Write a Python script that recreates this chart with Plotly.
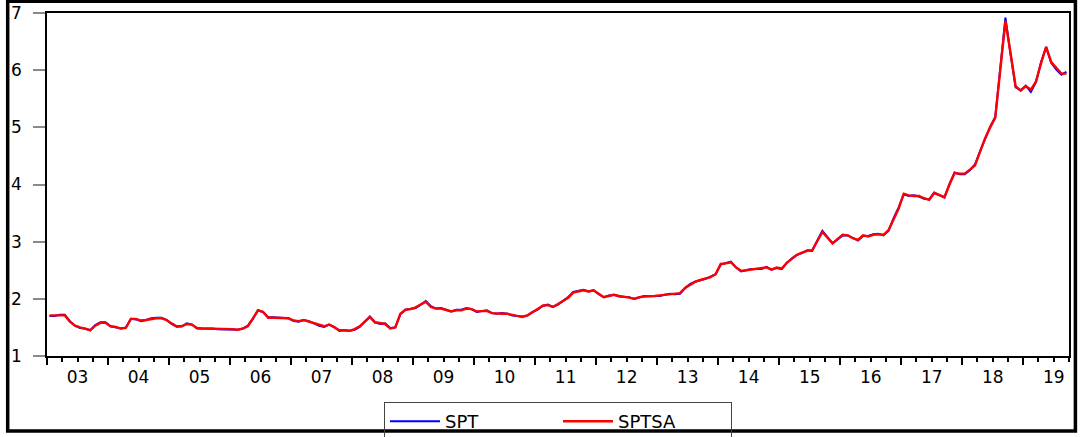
import plotly.graph_objects as go

# Monthly series, 2003M01 .. 2019M09
start_year = 2003
n_years_full = 16
year_labels = ["03", "04", "05", "06", "07", "08", "09", "10", "11",
               "12", "13", "14", "15", "16", "17", "18", "19"]

SPT = [
    1.70, 1.70, 1.72, 1.72, 1.61, 1.53, 1.49, 1.48, 1.45, 1.54, 1.59, 1.59,
    1.52, 1.50, 1.48, 1.50, 1.65, 1.64, 1.61, 1.63, 1.66, 1.67, 1.67, 1.63,
    1.56, 1.51, 1.52, 1.57, 1.55, 1.48, 1.48, 1.49, 1.48, 1.47, 1.47, 1.47,
    1.46, 1.46, 1.48, 1.53, 1.65, 1.80, 1.77, 1.68, 1.68, 1.67, 1.66, 1.66,
    1.61, 1.60, 1.63, 1.61, 1.57, 1.53, 1.51, 1.55, 1.51, 1.44, 1.45, 1.44,
    1.46, 1.51, 1.60, 1.69, 1.59, 1.56, 1.57, 1.49, 1.50, 1.73, 1.81, 1.82,
    1.84, 1.90, 1.96, 1.87, 1.83, 1.84, 1.81, 1.78, 1.81, 1.81, 1.84, 1.82,
    1.77, 1.78, 1.80, 1.75, 1.74, 1.75, 1.74, 1.71, 1.70, 1.69, 1.71, 1.77,
    1.81, 1.88, 1.90, 1.86, 1.90, 1.96, 2.03, 2.12, 2.14, 2.16, 2.13, 2.15,
    2.08, 2.03, 2.06, 2.07, 2.04, 2.04, 2.03, 2.00, 2.02, 2.05, 2.05, 2.05,
    2.05, 2.07, 2.09, 2.08, 2.09, 2.19, 2.26, 2.30, 2.32, 2.35, 2.39, 2.43,
    2.60, 2.62, 2.65, 2.55, 2.48, 2.50, 2.52, 2.52, 2.52, 2.56, 2.51, 2.54,
    2.52, 2.63, 2.71, 2.77, 2.80, 2.85, 2.84, 3.02, 3.19, 3.08, 2.97, 3.04,
    3.11, 3.11, 3.07, 3.02, 3.10, 3.10, 3.13, 3.14, 3.11, 3.19, 3.41, 3.60,
    3.83, 3.80, 3.81, 3.79, 3.75, 3.74, 3.86, 3.81, 3.77, 4.01, 4.21, 4.18,
    4.18, 4.25, 4.35, 4.58, 4.80, 5.01, 5.18, 6.05, 6.92, 6.28, 5.70, 5.65,
    5.73, 5.62, 5.79, 6.14, 6.40, 6.13, 6.01, 5.92, 5.97,
]

SPTSA = [
    1.71, 1.71, 1.72, 1.71, 1.60, 1.53, 1.50, 1.48, 1.45, 1.53, 1.58, 1.58,
    1.52, 1.51, 1.48, 1.49, 1.65, 1.65, 1.62, 1.63, 1.65, 1.66, 1.66, 1.63,
    1.57, 1.52, 1.52, 1.56, 1.55, 1.49, 1.48, 1.48, 1.48, 1.48, 1.47, 1.47,
    1.47, 1.46, 1.48, 1.52, 1.66, 1.80, 1.77, 1.67, 1.67, 1.67, 1.67, 1.66,
    1.62, 1.61, 1.63, 1.60, 1.57, 1.54, 1.52, 1.55, 1.50, 1.45, 1.45, 1.44,
    1.47, 1.52, 1.60, 1.68, 1.59, 1.57, 1.56, 1.48, 1.50, 1.74, 1.81, 1.82,
    1.85, 1.90, 1.95, 1.86, 1.83, 1.83, 1.81, 1.78, 1.80, 1.80, 1.83, 1.82,
    1.78, 1.78, 1.79, 1.75, 1.74, 1.74, 1.74, 1.72, 1.70, 1.68, 1.71, 1.77,
    1.82, 1.88, 1.89, 1.86, 1.91, 1.96, 2.02, 2.11, 2.13, 2.15, 2.13, 2.15,
    2.09, 2.03, 2.05, 2.07, 2.05, 2.04, 2.02, 2.00, 2.03, 2.04, 2.04, 2.05,
    2.06, 2.07, 2.08, 2.08, 2.10, 2.19, 2.25, 2.30, 2.33, 2.35, 2.38, 2.43,
    2.61, 2.62, 2.64, 2.55, 2.49, 2.50, 2.51, 2.52, 2.53, 2.55, 2.51, 2.55,
    2.53, 2.63, 2.70, 2.77, 2.81, 2.84, 2.85, 3.01, 3.17, 3.07, 2.97, 3.05,
    3.12, 3.11, 3.06, 3.03, 3.11, 3.09, 3.12, 3.13, 3.12, 3.20, 3.40, 3.58,
    3.84, 3.81, 3.80, 3.80, 3.76, 3.73, 3.85, 3.82, 3.78, 4.00, 4.20, 4.19,
    4.19, 4.26, 4.33, 4.57, 4.81, 5.00, 5.17, 6.02, 6.86, 6.30, 5.72, 5.64,
    5.72, 5.66, 5.80, 6.12, 6.41, 6.14, 6.03, 5.94, 5.94,
]

y_ticks = [1, 2, 3, 4, 5, 6, 7]

n = len(SPTSA)
x = [start_year + (i + 0.5) / 12 for i in range(n)]
x_end = start_year + n / 12
year_ticks = [start_year + k for k in range(n_years_full + 1)]
quarter_ticks = [start_year + k / 4 for k in range(int(n / 3) + 1) if k % 4 != 0]
label_pos = [start_year + k + 0.5 for k in range(len(year_labels))]

FONT = "DejaVu Sans"

fig = go.Figure()
fig.add_trace(go.Scatter(x=x, y=SPT, name="SPT", mode="lines",
                         line=dict(color="#0000FF", width=2)))
fig.add_trace(go.Scatter(x=x, y=SPTSA, name="SPTSA", mode="lines",
                         line=dict(color="#FF0000", width=2.4)))
# carrier trace for the label axis
fig.add_trace(go.Scatter(x=x, y=SPTSA, xaxis="x2", mode="lines", opacity=0,
                         line=dict(width=0), showlegend=False, hoverinfo="skip"))

W, H = 1081, 437
ml, mr, mt, mb = 47, 12, 13, 81
pw, ph = W - ml - mr, H - mt - mb

def px2paper_x(p):
    return (p - ml) / pw

def px2paper_y(p):
    return (H - mb - p) / ph

fig.update_layout(
    width=W, height=H, autosize=False,
    margin=dict(l=ml, r=mr, t=mt, b=mb, pad=0, autoexpand=False),
    paper_bgcolor="white", plot_bgcolor="white",
    font=dict(family=FONT, size=17, color="black"),
    xaxis=dict(range=[start_year, x_end], tickmode="array", tickvals=year_ticks,
               showticklabels=False, ticks="outside", ticklen=7, tickwidth=1.5,
               tickcolor="black", showline=True, linecolor="black", linewidth=1.5,
               mirror=True, showgrid=False, zeroline=False, automargin=False,
               minor=dict(tickmode="array", tickvals=quarter_ticks, ticks="outside",
                          ticklen=4, tickwidth=1.5, tickcolor="black", showgrid=False)),
    xaxis2=dict(range=[start_year, x_end], overlaying="x", anchor="y", side="bottom",
                tickmode="array", tickvals=label_pos, ticktext=year_labels,
                ticks="", showline=False, showgrid=False, zeroline=False,
                automargin=False, ticklabelstandoff=9,
                tickfont=dict(family=FONT, size=17, color="black")),
    yaxis=dict(range=[1, 7], tickmode="array", tickvals=y_ticks, ticks="outside",
               ticklen=12, tickwidth=1.5, tickcolor="#8a8a8a", showline=True,
               linecolor="black", linewidth=1.5, mirror=True, showgrid=False,
               zeroline=False, ticklabelstandoff=8, automargin=False,
               tickfont=dict(family=FONT, size=17, color="black")),
    legend=dict(orientation="h", x=0.5, xanchor="center",
                y=px2paper_y(402), yanchor="top",
                bgcolor="rgba(0,0,0,0)", bordercolor="#444", borderwidth=1,
                font=dict(family=FONT, size=18, color="black"),
                itemwidth=50, entrywidth=108, entrywidthmode="pixels"),
    shapes=[dict(type="rect", xref="paper", yref="paper",
                 x0=px2paper_x(7.7), x1=px2paper_x(1075.4),
                 y0=px2paper_y(431), y1=px2paper_y(1.3),
                 line=dict(color="black", width=3.5), layer="above")],
    showlegend=True,
)

fig.write_html("out.html")
